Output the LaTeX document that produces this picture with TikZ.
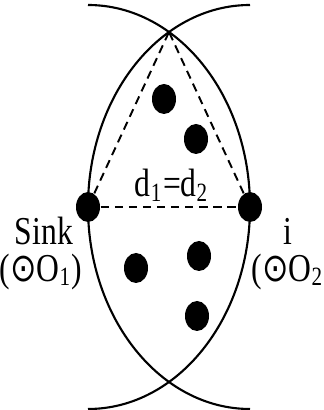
\documentclass[tikz,border=0pt]{standalone}
\usepackage{fontspec}
\setmainfont{Liberation Serif}
\newfontfamily\simbolo{DejaVu Sans}
\usetikzlibrary{positioning,shapes.geometric}
\tikzset{
  punto/.style={ellipse, fill=black, minimum width=0.24cm, minimum height=0.30cm, inner sep=0pt},
  borde/.style={line width=0.6pt},
  trazo/.style={line width=0.55pt, dash pattern=on 2.4pt off 1.6pt},
  etiqueta/.style={inner sep=0pt, anchor=base, yscale=1.25, font=\fontsize{9}{11}\selectfont},
}

\begin{document}
\begin{tikzpicture}
          \useasboundingbox (0,0) rectangle (3.24,4.10);
          % nodos en el borde
          \node[punto] (sink) at (0.88,2.03) {};
          \node[punto] (nodoi) at (2.50,2.03) {};
          \coordinate (arriba) at (1.69,3.78);
          % arcos de los dos circulos
          \draw[borde] (0.88,4.05) arc[start angle=90, end angle=-90, x radius=1.62, y radius=2.02];
          \draw[borde] (2.50,4.05) arc[start angle=90, end angle=270, x radius=1.62, y radius=2.02];
          % nodos interiores
          \node[punto] (p1) at (1.64,3.11) {};
          \node[punto] (p2) at (1.96,2.71) {};
          \node[punto] (p3) at (1.36,1.42) {};
          \node[punto] (p4) at (1.99,1.54) {};
          \node[punto] (p5) at (1.97,0.94) {};
          \draw[trazo] (sink) -- (arriba);
          \draw[trazo] (nodoi) -- (arriba);
          \draw[trazo] (sink) -- (nodoi);
          \node[etiqueta] (dist) at (1.72,2.13) {d\textsubscript{1}=d\textsubscript{2}};
          \node[etiqueta] (lsink) at (0.44,1.65) {Sink};
          \node[etiqueta] (lo1) at (0.41,1.29) {({\simbolo ⊙}O\textsubscript{1})};
          \node[etiqueta] (li) at (2.88,1.65) {i};
          \node[etiqueta] (lo2) at (2.93,1.29) {({\simbolo ⊙}O\textsubscript{2})};
        \end{tikzpicture}
\end{document}
